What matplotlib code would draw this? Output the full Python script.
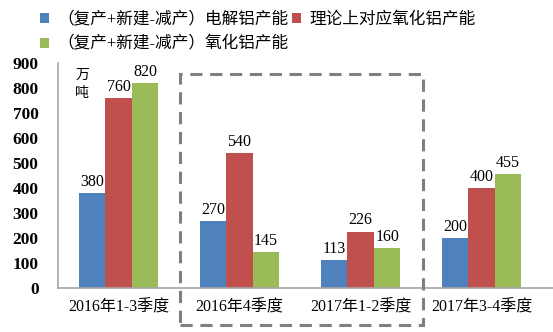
import matplotlib.pyplot as plt
import numpy as np
from matplotlib.patches import Rectangle

plt.rcParams['font.family'] = ['Liberation Serif', 'Noto Sans CJK SC']

categories = ['2016年1-3季度', '2016年4季度', '2017年1-2季度', '2017年3-4季度']
electrolytic = [380, 270, 113, 200]
theoretical = [760, 540, 226, 400]
alumina = [820, 145, 160, 455]
series_names = ['（复产+新建-减产）电解铝产能', '理论上对应氧化铝产能', '（复产+新建-减产）氧化铝产能']
colors = ['#4F81BD', '#C0504D', '#9BBB59']

fig = plt.figure(figsize=(5.53, 3.32), dpi=100)
ax = fig.add_axes([58/553, 44/332, 495/553, 225/332])

x = np.arange(len(categories))
w = 0.22
bars = []
for i, (vals, c) in enumerate(zip([electrolytic, theoretical, alumina], colors)):
    b = ax.bar(x + (i - 1) * w, vals, w, color=c, label=series_names[i])
    bars.append(b)
    for xi, v in zip(x + (i - 1) * w, vals):
        ax.text(xi, v + 12, str(v), ha='center', va='bottom', fontsize=11.5)

ax.set_xlim(-0.5, len(categories) - 0.5 + 11/121)
ax.set_ylim(0, 900)
ax.set_yticks(range(0, 901, 100))
ax.set_xticks(x)
ax.set_xticklabels(categories, fontsize=11.5)
for lab in ax.get_yticklabels():
    lab.set_fontsize(12.5)
    lab.set_fontweight('bold')
ax.tick_params(length=0, pad=8)
ax.tick_params(axis='y', pad=14)
for s in ['top', 'right']:
    ax.spines[s].set_visible(False)
for s in ['left', 'bottom']:
    ax.spines[s].set_color('#A6A6A6')
    ax.spines[s].set_linewidth(1.2)

ax.text(0.035, 0.975, '万\n吨', transform=ax.transAxes, ha='left', va='top',
        fontsize=10, linespacing=1.5)

# dashed frame around the middle two quarters
fig.patches.append(Rectangle((180/553, 7/332), 243/553, 251/332,
                             transform=fig.transFigure, fill=False,
                             edgecolor='#7F7F7F', linestyle=(0, (4, 2.5)),
                             linewidth=2.2))

handles = [bars[0], bars[2], bars[1]]
labels = [series_names[0], series_names[2], series_names[1]]
fig.legend(handles, labels, ncol=2, loc='upper left', bbox_to_anchor=(25/553, 1.01),
           frameon=False, fontsize=12, handlelength=0.55, handleheight=0.55,
           handletextpad=0.5, columnspacing=0.2, labelspacing=0.55)

fig.savefig('out.png', dpi=100)
